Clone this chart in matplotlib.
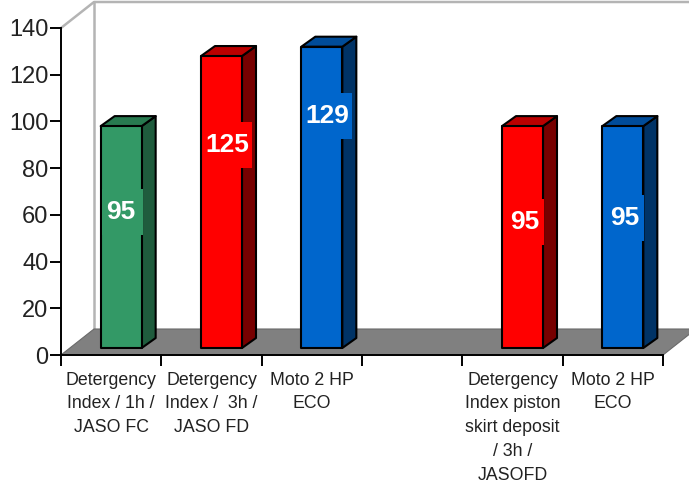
import numpy as np
import matplotlib
matplotlib.use('Agg')
import matplotlib.pyplot as plt
from matplotlib.patches import Polygon, Rectangle

plt.rcParams['font.family'] = ['Liberation Sans', 'DejaVu Sans']

categories = ['Detergency\nIndex / 1h /\nJASO FC', 'Detergency\nIndex /  3h /\nJASO FD', 'Moto 2 HP\nECO', '',
              'Detergency\nIndex piston\nskirt deposit\n/ 3h /\nJASOFD', 'Moto 2 HP\nECO']
values = [95, 125, 129, None, 95, 95]
bar_labels = ['95', '125', '129', '', '95', '95']

front_colors = ['#339966', '#ff0000', '#0066cc', None, '#ff0000', '#0066cc']
side_colors = ['#1f5c3d', '#770000', '#003366', None, '#770000', '#003366']
top_colors = ['#287a50', '#bb0000', '#004c99', None, '#bb0000', '#004c99']
# value label placement: fraction of bar height, x shift in px, how far its box pokes past the bar in px
label_frac = [0.615, 0.695, 0.77, 0, 0.57, 0.587]
label_dx = [-0.5, 6, 5, 0, 2, 2]
box_over = [1, 10, 10, 0, 1, 1]

W, H = 689, 483
fig = plt.figure(figsize=(W / 100, H / 100), dpi=100)
ax = fig.add_axes([61 / W, 1 - 355 / H, 602 / W, 327 / H])
ax.set_xlim(0, 6)
ax.set_ylim(0, 140)

# one pixel in data units
px = 6 / 602
py = 140 / 327


def poly(pts, **kw):
	p = Polygon(pts, closed=True, clip_on=False, **kw)
	ax.add_patch(p)


# back wall and floor
wall = '#b4b4b4'
bx, by = 33 * px, 26 * py
ax.plot([0, bx, 6.4], [140, 140 + by, 140 + by], color=wall, lw=1.8, clip_on=False, zorder=1)
ax.plot([bx, bx], [by, 140 + by], color=wall, lw=1.8, clip_on=False, zorder=1)
poly([(0, 0), (bx, by), (6 + bx, by), (6, 0)], facecolor='#808080', edgecolor='#6a6a6a', lw=0.8, zorder=2)

# bars
bar_w = 41 * px
off_x, off_y = 10 * px, 7 * py
dx, dy = 14 * px, 10 * py
for i, v in enumerate(values):
	if v is None:
		continue
	x0 = i + 0.5 - bar_w / 2 + off_x
	x1 = x0 + bar_w
	y0 = off_y
	y1 = off_y + v
	edge = dict(edgecolor='black', lw=1.5, joinstyle='round', zorder=3)
	poly([(x1, y0), (x1 + dx, y0 + dy), (x1 + dx, y1 + dy), (x1, y1)], facecolor=side_colors[i], **edge)
	poly([(x0, y1), (x0 + dx, y1 + dy), (x1 + dx, y1 + dy), (x1, y1)], facecolor=top_colors[i], **edge)
	poly([(x0, y0), (x1, y0), (x1, y1), (x0, y1)], facecolor=front_colors[i], **edge)
	ly = y0 + v * label_frac[i]
	# label patch only breaks the right edge of the bar
	ax.add_patch(Rectangle((x0 + 1.5 * px, ly - 23 * py), bar_w - 1.5 * px + box_over[i] * px, 46 * py,
		facecolor=front_colors[i], edgecolor='none', clip_on=False, zorder=4))
	ax.text(i + 0.5 + off_x + label_dx[i] * px, ly, bar_labels[i],
		color='white', fontsize=19, fontweight='bold', ha='center', va='center', zorder=5)

# axes
for s in ['top', 'right']:
	ax.spines[s].set_visible(False)
for s in ['left', 'bottom']:
	ax.spines[s].set_linewidth(1.4)
	ax.spines[s].set_zorder(4)
ax.set_yticks(np.arange(0, 141, 20))
ax.tick_params(axis='y', labelsize=17, length=8, width=1.4, pad=1, labelcolor='#222222')
ax.set_xticks(np.arange(0, 7))
ax.set_xticklabels([])
ax.tick_params(axis='x', which='major', length=8, width=1.4)
ax.set_xticks(np.arange(6) + 0.5, minor=True)
ax.set_xticklabels(categories, minor=True, fontsize=12.8, color='#222222', linespacing=1.52)
ax.tick_params(axis='x', which='minor', length=0, pad=12)
ax.patch.set_visible(False)

fig.savefig('out.png', dpi=100)
